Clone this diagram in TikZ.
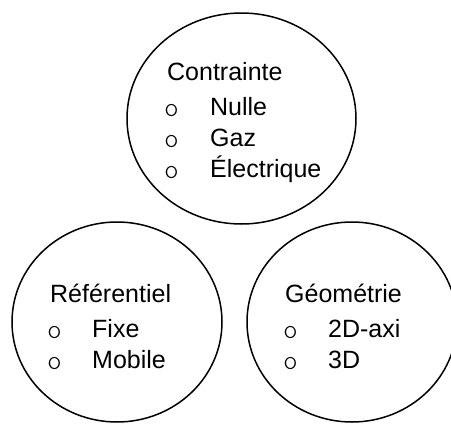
\documentclass[tikz,border=0pt]{standalone}
\usepackage{fontspec}
\setmainfont{Liberation Sans}
\newfontfamily\pucefont{lmmonolt10-regular.otf}
\usetikzlibrary{shapes.geometric}
\tikzset{
  bulle/.style={shape=ellipse,draw=black,line width=1.5pt,inner sep=0},
  titre/.style={anchor=base west,inner sep=0,font=\fontsize{25}{30}\selectfont},
  puce/.style={anchor=base west,inner sep=0,font=\pucefont\fontsize{28}{32}\selectfont},
}

\begin{document}
\begin{tikzpicture}[x=1pt,y=-1pt]
\useasboundingbox (0,0) rectangle (451,426);
\clip (0,0) rectangle (451,426);
\node[bulle,minimum width=229pt,minimum height=211pt] (contrainte) at (241.5,118.5) {};
\node[bulle,minimum width=210pt,minimum height=200pt] (referentiel) at (117,322) {};
\node[bulle,minimum width=210pt,minimum height=200pt] (geometrie) at (352,322) {};
\node[titre] (t1) at (167,80) {Contrainte};
\node[puce] (p11) at (164,116) {o};
\node[titre] (i11) at (210,115) {Nulle};
\node[puce] (p12) at (164,147) {o};
\node[titre] (i12) at (210,146) {Gaz};
\node[puce] (p13) at (164,178) {o};
\node[titre] (i13) at (210,177) {Électrique};
\node[titre] (t2) at (50,302) {Référentiel};
\node[puce] (p21) at (47,338) {o};
\node[titre] (i21) at (92,337) {Fixe};
\node[puce] (p22) at (47,369) {o};
\node[titre] (i22) at (92,368) {Mobile};
\node[titre] (t3) at (285,302) {Géométrie};
\node[puce] (p31) at (283,338) {o};
\node[titre] (i31) at (328,337) {2D-axi};
\node[puce] (p32) at (283,369) {o};
\node[titre] (i32) at (328,368) {3D};
\end{tikzpicture}
\end{document}
